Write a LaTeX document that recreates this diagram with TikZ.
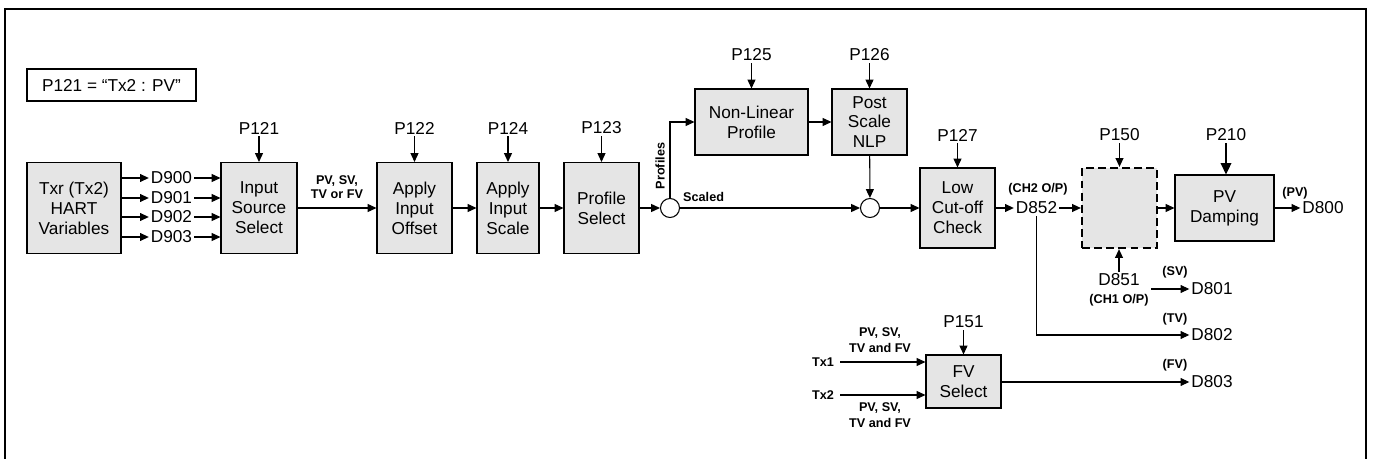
\documentclass[tikz,border=0pt]{standalone}
\usepackage{fontspec}
\setmainfont{Liberation Sans}
\usetikzlibrary{arrows.meta,positioning,calc}
\tikzset{
  blk/.style={draw, line width=0.6pt, fill=gray!20, align=center, font=\fontsize{9.8}{11.3}\selectfont, inner sep=1pt},
  lbl/.style={font=\fontsize{9.8}{11.3}\selectfont, inner sep=1pt},
  tag/.style={font=\fontsize{7.2}{9.4}\selectfont\bfseries, align=center, inner sep=0.5pt},
  sig/.style={-{Triangle[length=5pt,width=4.5pt]}, line width=0.6pt},
  sumpt/.style={draw, circle, line width=0.6pt, fill=white, minimum size=0.38cm, inner sep=0pt},
}

\begin{document}
\begin{tikzpicture}[x=0.02cm, y=-0.02cm]
  \useasboundingbox (0,0) rectangle (1373,459);
  % Outer frame
  \draw[line width=1.6pt] (5,459) -- (5,9) -- (1366,9) -- (1366,459);
  % Selection note
  \node[lbl, draw, line width=0.6pt, minimum width=3.38cm, minimum height=0.64cm] (note) at (111.5,85) {P121 = ``Tx2 : PV''};
  % Input chain
  \node[blk, minimum width=1.88cm, minimum height=1.82cm] (txr) at (74,208) {Txr (Tx2)\\HART\\Variables};
  \node[blk, minimum width=1.52cm, minimum height=1.82cm] (isrc) at (259,208) {Input\\Source\\Select};
  \node[blk, minimum width=1.5cm, minimum height=1.82cm] (offs) at (414.5,208) {Apply\\Input\\Offset};
  \node[blk, minimum width=1.24cm, minimum height=1.82cm] (iscl) at (508,208) {Apply\\Input\\Scale};
  \node[blk, minimum width=1.5cm, minimum height=1.82cm] (psel) at (601.5,208) {Profile\\Select};
  \foreach \d/\y in {900/178, 901/198, 902/217, 903/237} {
    \node[lbl] (d\d) at (171.5,\y) {D\d};
    \draw[sig] (txr.east |- d\d) -- (d\d);
    \draw[sig] (d\d) -- (isrc.west |- d\d);
  }
  \node[tag, font=\fontsize{7.2}{7.6}\selectfont\bfseries] (pvtv) at (337,187) {PV, SV,\\TV or FV};
  \draw[sig] (isrc) -- (offs);
  \draw[sig] (offs) -- (iscl);
  \draw[sig] (iscl) -- (psel);
  % Profile branch
  \node[sumpt] (c1) at (670,208) {};
  \node[sumpt] (c2) at (870,208) {};
  \node[blk, minimum width=2.26cm, minimum height=1.32cm] (nlp) at (751.5,122) {Non-Linear\\Profile};
  \node[blk, minimum width=1.5cm, minimum height=1.32cm] (pnlp) at (869.5,122) {Post\\Scale\\NLP};
  \node[tag, rotate=90] (prof) at (660,166) {Profiles};
  \node[tag, anchor=west] (scl) at (682,197) {Scaled};
  \draw[sig] (psel) -- (c1);
  \draw[sig] (c1.north) |- (nlp.west);
  \draw[sig] (nlp) -- (pnlp);
  \draw[sig] (pnlp) -- (c2);
  \draw[sig] (c1) -- (c2);
  % Cut-off, channel and damping
  \node[blk, minimum width=1.5cm, minimum height=1.6cm] (lcc) at (957.5,208) {Low\\Cut-off\\Check};
  \node[blk, dash pattern=on 4.5pt off 2.4pt, line width=1.3pt, minimum width=1.5cm, minimum height=1.6cm] (ch) at (1119.5,208) {};
  \node[blk, minimum width=1.98cm, minimum height=1.32cm] (pvd) at (1224.5,208) {PV\\Damping};
  \draw[sig] (c2) -- (lcc);
  \node[lbl] (d852) at (1036.5,208) {D852};
  \node[tag] (ch2) at (1038,189) {(CH2 O/P)};
  \draw[sig] (lcc) -- (d852);
  \draw[sig] (d852) -- (ch);
  \draw[sig] (ch) -- (pvd);
  \node[lbl] (d800) at (1323,208) {D800};
  \node[tag] (tpv) at (1295,193) {(PV)};
  \draw[sig] (pvd) -- (d800);
  % Parameter inputs
  \foreach \p/\b/\x/\y in {121/isrc/259/128, 122/offs/414.5/128, 124/iscl/508/128, 123/psel/601.5/128,
      125/nlp/751.5/55, 126/pnlp/869.5/55, 127/lcc/957.5/135, 150/ch/1119.5/135} {
    \node[lbl] (p\p) at (\x,\y) {P\p};
    \draw[sig] (p\p) -- (\b);
  }
  \node[lbl] (p210) at (1226,135) {P210};
  \draw[-{Triangle[length=6.5pt,width=6pt]}, line width=1.1pt] (p210) -- (pvd.north -| p210);
  % Secondary outputs
  \node[lbl] (d851) at (1119,280) {D851};
  \node[tag] (ch1) at (1119,300) {(CH1 O/P)};
  \draw[sig] (d851) -- (ch.south -| d851);
  \coordinate (svin) at (1151,289);
  \node[lbl] (d801) at (1212,289) {D801};
  \node[tag] (tsv) at (1175,272) {(SV)};
  \draw[sig] (svin) -- (d801);
  \node[lbl] (d802) at (1212,335) {D802};
  \node[tag] (ttv) at (1175,319) {(TV)};
  \draw[sig] (d852.south) |- (d802);
  % FV selection
  \node[blk, minimum width=1.5cm, minimum height=1.06cm] (fvs) at (963.5,381.5) {FV\\Select};
  \node[lbl] (p151) at (963.5,322) {P151};
  \draw[sig] (p151) -- (fvs);
  \node[tag] (tx1) at (823,362) {Tx1};
  \node[tag] (tx2) at (823,395) {Tx2};
  \node[tag] (lab1) at (880,340) {PV, SV,\\TV and FV};
  \node[tag] (lab2) at (880,415) {PV, SV,\\TV and FV};
  \draw[sig, shorten <=3pt] (tx1) -- (fvs.west |- tx1);
  \draw[sig, shorten <=3pt] (tx2) -- (fvs.west |- tx2);
  \node[lbl] (d803) at (1212,382) {D803};
  \node[tag] (tfv) at (1175,365) {(FV)};
  \draw[sig] (fvs.east |- d803) -- (d803);
\end{tikzpicture}
\end{document}
